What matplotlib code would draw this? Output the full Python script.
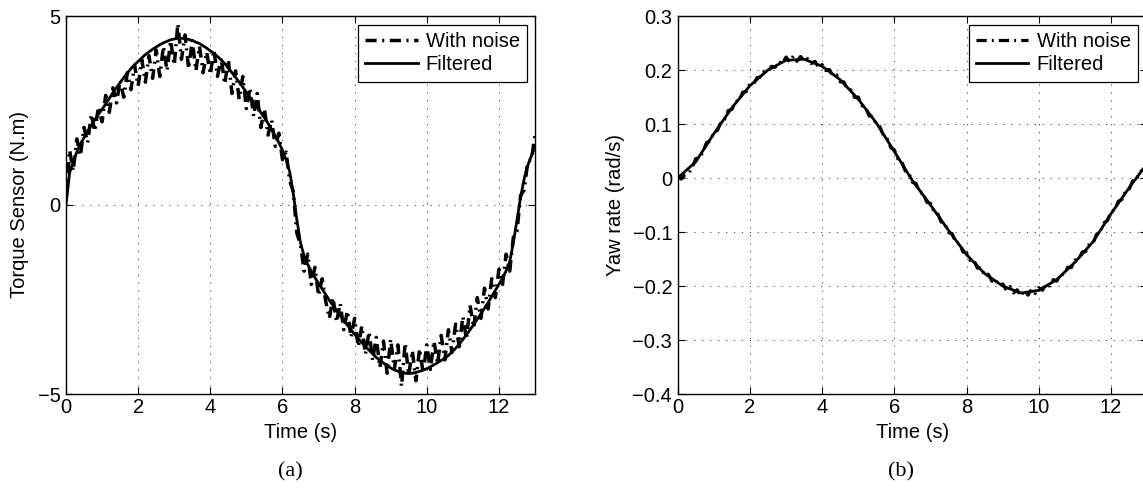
import numpy as np
import matplotlib
matplotlib.use('Agg')
import matplotlib.pyplot as plt
from matplotlib.ticker import FuncFormatter

plt.rcParams.update({'font.family': 'Liberation Sans', 'font.size': 14.5, 'axes.unicode_minus': True})

# ---- data ----
t = np.linspace(0, 13, 131)   # 0.1 s sampling

torque_noise = [
    0.20, 1.45, 0.90, 1.75, 1.30, 2.05, 1.65, 2.40, 1.95, 2.60,
    2.20, 2.90, 2.45, 3.10, 2.70, 3.30, 2.85, 3.50, 3.05, 3.70,
    3.15, 3.85, 3.25, 3.95, 3.35, 4.10, 3.40, 4.20, 3.55, 4.35,
    3.70, 4.80, 3.85, 4.50, 3.60, 4.35, 3.55, 4.20, 3.50, 4.05,
    3.45, 4.10, 3.40, 3.90, 3.20, 3.85, 2.95, 3.55, 2.80, 3.40,
    2.55, 3.10, 2.35, 2.95, 2.05, 2.55, 1.85, 2.25, 1.55, 1.90,
    1.20, 1.40, 0.65, 0.35, -0.75, -1.05, -1.75, -1.30, -2.10, -1.65,
    -2.40, -1.95, -2.55, -3.00, -2.45, -3.10, -2.60, -3.30, -2.80, -3.50,
    -3.00, -3.75, -3.20, -3.95, -3.35, -4.10, -3.50, -4.30, -3.60, -4.45,
    -3.55, -4.35, -3.70, -4.80, -3.65, -4.50, -3.85, -4.65, -3.80, -4.45,
    -3.70, -4.35, -3.60, -4.20, -3.45, -4.10, -3.30, -3.90, -3.15, -3.75,
    -2.95, -3.55, -2.65, -3.25, -2.45, -3.00, -2.20, -2.75, -1.95, -2.45,
    -1.70, -2.10, -1.30, -1.75, -0.85, -0.70, 0.25, 0.40, 1.15, 1.20,
    1.85]

torque_filt = [
    0.00, 0.85, 1.15, 1.40, 1.62, 1.78, 1.95, 2.10, 2.26, 2.40,
    2.53, 2.67, 2.82, 2.97, 3.11, 3.24, 3.37, 3.49, 3.61, 3.71,
    3.80, 3.89, 3.98, 4.05, 4.12, 4.18, 4.24, 4.29, 4.33, 4.37,
    4.39, 4.41, 4.41, 4.40, 4.38, 4.35, 4.31, 4.27, 4.21, 4.15,
    4.08, 4.01, 3.93, 3.84, 3.74, 3.62, 3.50, 3.38, 3.25, 3.12,
    2.98, 2.85, 2.71, 2.58, 2.45, 2.31, 2.16, 2.00, 1.83, 1.65,
    1.45, 1.20, 0.88, 0.30, -0.40, -1.00, -1.35, -1.57, -1.76, -1.92,
    -2.07, -2.22, -2.37, -2.52, -2.66, -2.79, -2.92, -3.05, -3.18, -3.30,
    -3.42, -3.53, -3.64, -3.74, -3.84, -3.94, -4.03, -4.11, -4.18, -4.25,
    -4.31, -4.36, -4.40, -4.43, -4.45, -4.46, -4.45, -4.43, -4.40, -4.37,
    -4.33, -4.28, -4.23, -4.17, -4.11, -4.06, -3.98, -3.89, -3.79, -3.68,
    -3.56, -3.43, -3.30, -3.16, -3.02, -2.88, -2.73, -2.58, -2.42, -2.26,
    -2.10, -1.93, -1.74, -1.50, -1.00, -0.40, 0.20, 0.70, 1.05, 1.30,
    1.55]

yaw_noise = [
    0.002, -0.002, 0.006, 0.008, 0.019, 0.036, 0.037, 0.048, 0.066, 0.068,
    0.085, 0.088, 0.104, 0.109, 0.125, 0.127, 0.141, 0.144, 0.159, 0.160,
    0.175, 0.174, 0.186, 0.187, 0.198, 0.197, 0.207, 0.205, 0.215, 0.212,
    0.224, 0.215, 0.226, 0.216, 0.225, 0.218, 0.221, 0.212, 0.216, 0.205,
    0.210, 0.199, 0.201, 0.189, 0.191, 0.178, 0.178, 0.164, 0.163, 0.149,
    0.150, 0.134, 0.131, 0.115, 0.114, 0.099, 0.095, 0.078, 0.073, 0.056,
    0.052, 0.035, 0.031, 0.013, 0.009, -0.008, -0.010, -0.027, -0.029, -0.045,
    -0.047, -0.063, -0.066, -0.082, -0.085, -0.101, -0.103, -0.120, -0.121, -0.137,
    -0.139, -0.153, -0.152, -0.167, -0.166, -0.181, -0.178, -0.191, -0.187, -0.200,
    -0.196, -0.208, -0.201, -0.213, -0.207, -0.219, -0.208, -0.217, -0.206, -0.214,
    -0.203, -0.208, -0.196, -0.200, -0.188, -0.191, -0.178, -0.179, -0.165, -0.166,
    -0.152, -0.151, -0.137, -0.136, -0.122, -0.121, -0.104, -0.100, -0.083, -0.079,
    -0.062, -0.059, -0.043, -0.040, -0.024, -0.021, -0.005, -0.003, 0.012, 0.015,
    0.030]

t_yaw_filt = [0.0, 0.5, 1.0, 1.5, 2.0, 2.5, 3.0, 3.5, 4.0, 4.5, 5.0, 5.5, 6.0, 6.5,
              7.0, 7.5, 8.0, 8.5, 9.0, 9.5, 10.0, 10.5, 11.0, 11.5, 12.0, 12.5, 13.0]
yaw_filt = [0.000, 0.030, 0.082, 0.130, 0.171, 0.200, 0.218, 0.220, 0.207, 0.182,
            0.146, 0.102, 0.049, -0.005, -0.050, -0.097, -0.142, -0.177, -0.200, -0.213,
            -0.208, -0.188, -0.156, -0.118, -0.066, -0.018, 0.027]

W, H = 1143, 492
fig = plt.figure(figsize=(W/100, H/100), dpi=100)
ax1 = fig.add_axes([66/W, 98/H, 469/W, 378/H])
ax2 = fig.add_axes([677.7/W, 98/H, 469.5/W, 378/H])

DASHDOT = (0, (3.2, 1.6, 0.6, 1.6))
GRID = dict(color='#333333', linestyle=(0, (1.5, 8)), linewidth=0.6)

def style(ax, right_gap):
    ax.tick_params(direction='in', top=True, right=True, length=5, width=0.8, pad=3)
    ax.tick_params(axis='y', pad=4)
    for s in ax.spines.values():
        s.set_linewidth(1.0)
    ax.grid(True, **GRID)
    ax.set_axisbelow(True)
    ax.set_xlim(0, 13)
    ax.set_xticks([0, 2, 4, 6, 8, 10, 12])
    ax.set_xlabel('Time (s)', labelpad=4)
    ax_w = ax.get_position().width * W
    leg = ax.legend(loc='upper right', bbox_to_anchor=(1 - right_gap/ax_w, 1 - 9/378),
                    borderaxespad=0, fancybox=False, framealpha=1, edgecolor='black',
                    handlelength=2.6, handletextpad=0.4, labelspacing=0.22, borderpad=0.35)
    leg.get_frame().set_linewidth(0.9)

ax1.plot(t, torque_noise, color='black', linewidth=2.5, linestyle=DASHDOT, label='With noise')
ax1.plot(t, torque_filt, color='black', linewidth=2.0, label='Filtered')
ax1.set_ylim(-5, 5)
ax1.set_yticks([-5, 0, 5])
ax1.set_ylabel('Torque Sensor (N.m)', labelpad=6)
style(ax1, 8)

ax2.plot(t, yaw_noise, color='black', linewidth=2.3, linestyle=DASHDOT, label='With noise')
ax2.plot(t_yaw_filt, yaw_filt, color='black', linewidth=2.0, label='Filtered')
ax2.set_ylim(-0.4, 0.3)
ax2.set_yticks([-0.4, -0.3, -0.2, -0.1, 0, 0.1, 0.2, 0.3])
ax2.yaxis.set_major_formatter(FuncFormatter(lambda v, p: ('%g' % round(v, 2)).replace('-', '\u2212')))
ax2.set_ylabel('Yaw rate (rad/s)', labelpad=5)
style(ax2, 9.5)

fig.text(290/W, 1 - 472/H, '(a)', ha='center', va='center', family='Liberation Serif', fontsize=16)
fig.text(901/W, 1 - 472/H, '(b)', ha='center', va='center', family='Liberation Serif', fontsize=16)

fig.savefig('out.png', dpi=100)
